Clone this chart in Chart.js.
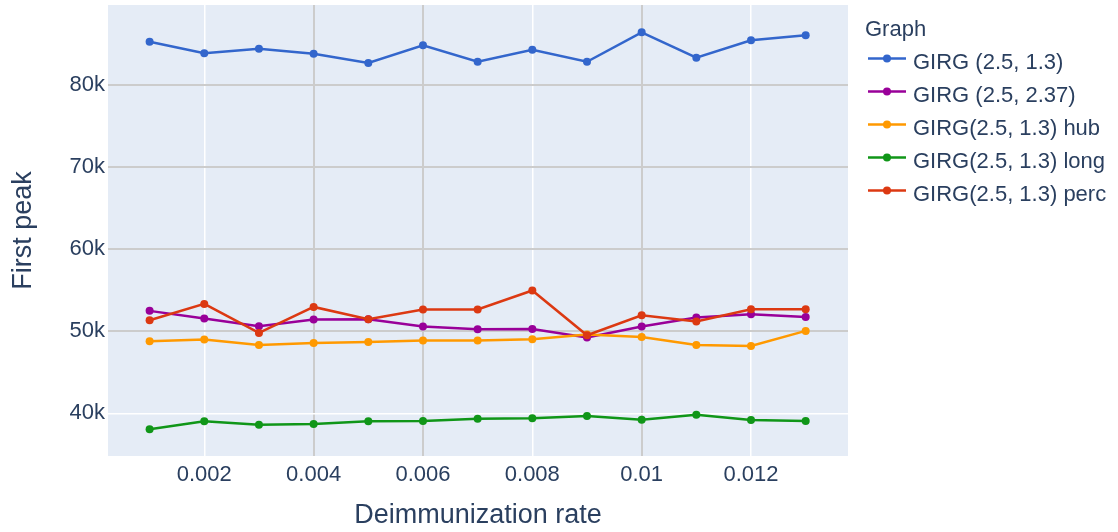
<!DOCTYPE html>
<html>
<head>
<meta charset="utf-8">
<script src="https://cdn.jsdelivr.net/npm/chart.js@4/dist/chart.umd.min.js"></script>
<style>
    html, body { margin: 0; padding: 0; background: #fff; }
    #wrap { width: 1118px; height: 532px; }
</style>
</head>
<body>
<div id="wrap"><canvas id="chart" width="1118" height="532"></canvas></div>
<script>
// data
const rates = [0.001, 0.002, 0.003, 0.004, 0.005, 0.006, 0.007, 0.008, 0.009, 0.01, 0.011, 0.012, 0.013];
const seriesNames = ['GIRG (2.5, 1.3)', 'GIRG (2.5, 2.37)', 'GIRG(2.5, 1.3) hub', 'GIRG(2.5, 1.3) long', 'GIRG(2.5, 1.3) perc'];
const girgBase = [85280, 83870, 84430, 83820, 82680, 84840, 82840, 84300, 82840, 86430, 83330, 85450, 86060];
const girgHigh = [52480, 51550, 50610, 51430, 51460, 50570, 50240, 50280, 49230, 50570, 51670, 52070, 51740];
const girgHub = [48780, 48990, 48330, 48570, 48700, 48870, 48870, 49020, 49600, 49300, 48330, 48210, 50040];
const girgLong = [38050, 39020, 38610, 38700, 39020, 39060, 39340, 39390, 39670, 39220, 39830, 39180, 39060];
const girgPerc = [51340, 53330, 49790, 52960, 51460, 52650, 52650, 54960, 49510, 51950, 51180, 52680, 52680];
const xTicks = [0.002, 0.004, 0.006, 0.008, 0.01, 0.012];
const xTickLabels = ['0.002', '0.004', '0.006', '0.008', '0.01', '0.012'];
const yTicks = [40000, 50000, 60000, 70000, 80000];
const yTickLabels = ['40k', '50k', '60k', '70k', '80k'];

const textColor = '#2a3f5f',
    font = '"Liberation Sans", Arial, sans-serif',
    gridGrey = 'rgb(204,204,204)',
    colors = ['#3366CC', '#990099', '#FF9900', '#109618', '#DC3912'],
    values = [girgBase, girgHigh, girgHub, girgLong, girgPerc];

const datasets = values.map((vals, i) => ({
    label: seriesNames[i],
    data: vals.map((v, j) => ({ x: rates[j], y: v })),
    borderColor: colors[i],
    backgroundColor: colors[i],
    borderWidth: 2.5,
    pointRadius: 4,
    pointBorderWidth: 0,
    pointBackgroundColor: colors[i],
    tension: 0,
    fill: false,
    order: values.length - i
}));

const plotBackground = {
    id: 'plotBackground',
    beforeDraw(chart) {
        const { ctx, chartArea } = chart;
        ctx.save();
        ctx.fillStyle = '#E5ECF6';
        ctx.fillRect(chartArea.left, chartArea.top, chartArea.right - chartArea.left, chartArea.bottom - chartArea.top);
        ctx.restore();
    }
};

const sideLegend = {
    id: 'sideLegend',
    afterDraw(chart) {
        const ctx = chart.ctx;
        ctx.save();
        ctx.font = '22px ' + font;
        ctx.textBaseline = 'alphabetic';
        ctx.fillStyle = textColor;
        ctx.fillText('Graph', 865, 36);
        chart.data.datasets.forEach((ds, i) => {
            const y = 58.5 + i * 33;
            ctx.strokeStyle = ds.borderColor;
            ctx.lineWidth = 2.5;
            ctx.beginPath();
            ctx.moveTo(868, y);
            ctx.lineTo(906, y);
            ctx.stroke();
            ctx.fillStyle = ds.borderColor;
            ctx.beginPath();
            ctx.arc(887, y, 4, 0, Math.PI * 2);
            ctx.fill();
            ctx.fillStyle = textColor;
            ctx.fillText(ds.label, 913, y + 10);
        });
        ctx.restore();
    }
};

new Chart(document.getElementById('chart'), {
    type: 'line',
    data: { datasets: datasets },
    plugins: [plotBackground, sideLegend],
    options: {
        responsive: false,
        animation: false,
        devicePixelRatio: 1,
        layout: { padding: { left: 0, right: 270, top: 5, bottom: 0 } },
        scales: {
            x: {
                type: 'linear',
                min: 0.000239,
                max: 0.013774,
                afterBuildTicks: scale => { scale.ticks = xTicks.map(v => ({ value: v })); },
                afterFit: scale => {
                    scale.height = 76;
                    scale.paddingLeft = 0;
                    scale.paddingRight = 0;
                },
                border: { display: false },
                grid: {
                    drawTicks: false,
                    color: c => [1, 2, 4].includes(c.index) ? gridGrey : '#ffffff',
                    lineWidth: c => [1, 2, 4].includes(c.index) ? 2 : 1.5
                },
                ticks: {
                    padding: 6,
                    color: textColor,
                    font: { family: font, size: 22 },
                    maxRotation: 0,
                    callback: (v, i) => xTickLabels[i]
                },
                title: {
                    display: true,
                    text: 'Deimmunization rate',
                    color: textColor,
                    font: { family: font, size: 27 },
                    padding: { top: 0, bottom: 0 }
                }
            },
            y: {
                min: 34793,
                max: 89756,
                afterBuildTicks: scale => { scale.ticks = yTicks.map(v => ({ value: v })); },
                afterFit: scale => {
                    scale.width = 108;
                    scale.paddingTop = 0;
                    scale.paddingBottom = 0;
                },
                border: { display: false },
                grid: {
                    drawTicks: false,
                    color: c => c.index === 0 ? '#ffffff' : gridGrey,
                    lineWidth: c => c.index === 0 ? 1.5 : 2
                },
                ticks: {
                    padding: 3,
                    color: textColor,
                    font: { family: font, size: 22 },
                    callback: (v, i) => yTickLabels[i]
                },
                title: {
                    display: true,
                    text: 'First peak',
                    color: textColor,
                    font: { family: font, size: 27 },
                    padding: { top: 7, bottom: 0 }
                }
            }
        },
        plugins: {
            legend: { display: false },
            tooltip: { enabled: false }
        }
    }
});
</script>
</body>
</html>
